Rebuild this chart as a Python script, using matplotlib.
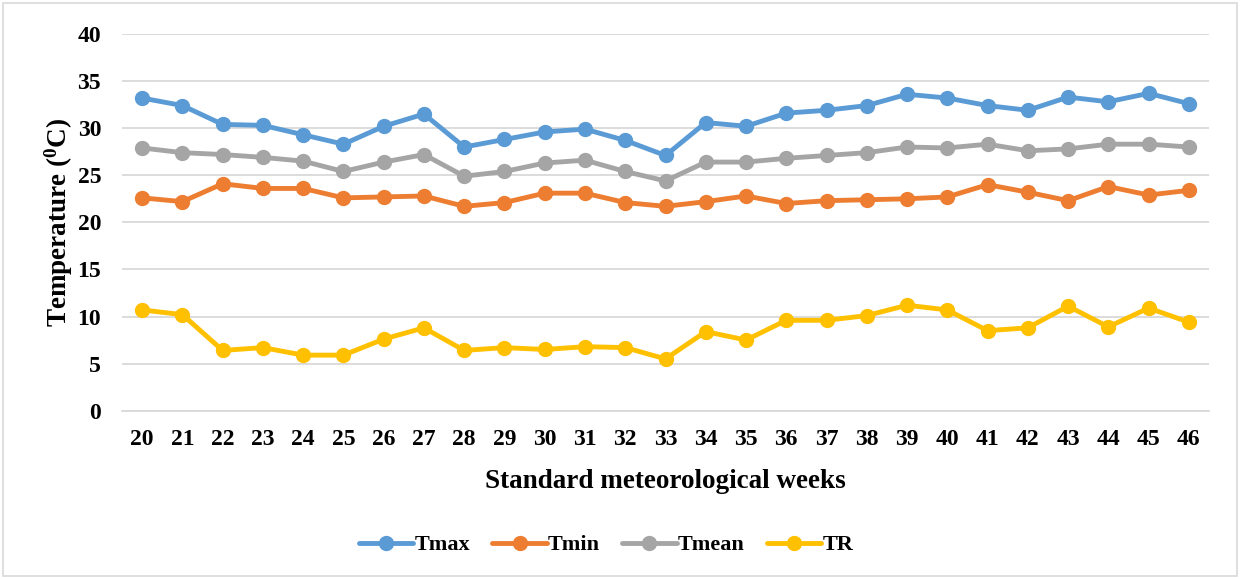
import matplotlib
matplotlib.use("Agg")
import matplotlib.pyplot as plt
from matplotlib.patches import Rectangle

weeks = list(range(20, 47))
tmax = [33.2, 32.4, 30.4, 30.3, 29.3, 28.3, 30.2, 31.5, 28.0, 28.8, 29.6,
        29.9, 28.7, 27.1, 30.6, 30.2, 31.6, 31.9, 32.4, 33.6, 33.2, 32.4,
        31.9, 33.3, 32.8, 33.7, 32.6]
tmin = [22.6, 22.2, 24.1, 23.6, 23.6, 22.6, 22.7, 22.8, 21.7, 22.1, 23.1,
        23.1, 22.1, 21.7, 22.2, 22.8, 22.0, 22.3, 22.4, 22.5, 22.7, 24.0,
        23.2, 22.3, 23.8, 22.9, 23.4]
tmean = [27.9, 27.4, 27.2, 26.9, 26.5, 25.4, 26.4, 27.2, 24.9, 25.4, 26.3,
         26.6, 25.4, 24.4, 26.4, 26.4, 26.8, 27.1, 27.4, 28.0, 27.9, 28.3,
         27.6, 27.8, 28.3, 28.3, 28.0]
tr = [10.7, 10.2, 6.4, 6.7, 5.9, 5.9, 7.6, 8.8, 6.4, 6.7, 6.5,
      6.8, 6.7, 5.5, 8.4, 7.5, 9.6, 9.6, 10.1, 11.2, 10.7, 8.5,
      8.8, 11.1, 8.9, 10.9, 9.4]
series_names = ["Tmax", "Tmin", "Tmean", "TR"]
colors = ["#5b9bd5", "#ed7d31", "#a5a5a5", "#ffc000"]
yticks = [0, 5, 10, 15, 20, 25, 30, 35, 40]

plt.rcParams['font.family'] = ['Liberation Serif', 'DejaVu Serif']
plt.rcParams['font.weight'] = 'bold'
plt.rcParams['mathtext.fontset'] = 'custom'
plt.rcParams['mathtext.rm'] = 'Liberation Serif:bold'
plt.rcParams['mathtext.it'] = 'Liberation Serif:bold'
plt.rcParams['mathtext.bf'] = 'Liberation Serif:bold'

fig = plt.figure(figsize=(12.42, 5.79), dpi=100)
ax = fig.add_axes([122/1242, 1 - 410.7/579, (1209-122)/1242, (410.7-34)/579])

for name, vals, c in zip(series_names, [tmax, tmin, tmean, tr], colors):
    ax.plot(weeks, vals, color=c, lw=3.5, marker='o', markersize=10,
            label=name, solid_capstyle='round', zorder=3)

ax.set_xlim(19.5, 46.5)
ax.set_ylim(0, 40)
ax.set_yticks(yticks)
ax.set_xticks(weeks)
ax.grid(axis='y', color='#d9d9d9', lw=1.3, zorder=0)
ax.grid(axis='x', visible=False)
for s in ['top', 'right', 'left']:
    ax.spines[s].set_visible(False)
ax.spines['bottom'].set_color('#d9d9d9')
ax.spines['bottom'].set_linewidth(1.3)
ax.tick_params(axis='both', length=0, labelsize=17)
ax.tick_params(axis='y', pad=15)
ax.tick_params(axis='x', pad=13)
for lab in ax.get_xticklabels() + ax.get_yticklabels():
    lab.set_fontweight('bold')

ax.set_xlabel("Standard meteorological weeks", fontsize=19.5, fontweight='bold', labelpad=14)
ax.set_ylabel(r"Temperature ($^{0}$C)", fontsize=19.5, fontweight='bold', labelpad=2)

leg = fig.legend(loc='center', bbox_to_anchor=(0.5 - 15/1242, 1 - 545/579), ncol=4,
                 frameon=False, prop={'size': 16, 'weight': 'bold'},
                 handlelength=2.45, handletextpad=0.05, columnspacing=1.0)

fig.patches.append(Rectangle((3/1242, 3/579), 1234/1242, 573/579,
                             transform=fig.transFigure, fill=False,
                             edgecolor='#d9d9d9', lw=1.2))

fig.savefig("out.png", dpi=100)
